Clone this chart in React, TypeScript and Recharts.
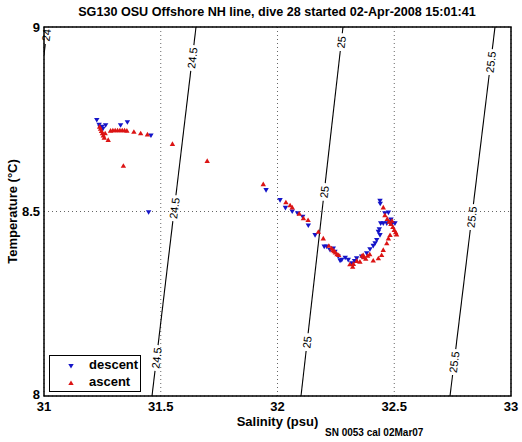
import React from 'react';
import {
  ScatterChart, Scatter, XAxis, YAxis, CartesianGrid, ReferenceLine,
  ReferenceDot, ReferenceArea,
} from 'recharts';

const FONT = '"Liberation Sans", Arial, Helvetica, sans-serif';

// glider samples
const descentSal = [
  31.226, 31.236, 31.240, 31.244, 31.248, 31.252, 31.264, 31.328, 31.357, 31.458, 31.448,
  31.951, 32.011, 32.034, 32.063, 32.086, 32.108, 32.132, 32.161, 32.200, 32.211, 32.225,
  32.239, 32.246, 32.260, 32.268, 32.275, 32.290, 32.303, 32.318, 32.330, 32.339, 32.360,
  32.382, 32.396, 32.410, 32.418, 32.425, 32.432, 32.439, 32.436, 32.442, 32.453, 32.468,
  32.480, 32.492, 32.503, 32.475, 32.460, 32.439, 32.440, 32.486,
];
const descentTemp = [
  8.748, 8.735, 8.728, 8.722, 8.730, 8.724, 8.734, 8.734, 8.742, 8.706, 8.498,
  8.558, 8.531, 8.510, 8.500, 8.495, 8.486, 8.462, 8.436, 8.405, 8.405, 8.396,
  8.400, 8.391, 8.378, 8.367, 8.369, 8.375, 8.369, 8.360, 8.366, 8.373, 8.378,
  8.387, 8.398, 8.407, 8.414, 8.423, 8.445, 8.436, 8.452, 8.468, 8.468, 8.468,
  8.470, 8.468, 8.468, 8.497, 8.495, 8.529, 8.521, 8.478,
];

const ascentSal = [
  31.238, 31.242, 31.246, 31.250, 31.254, 31.258, 31.262, 31.275, 31.285, 31.295, 31.305,
  31.315, 31.325, 31.335, 31.345, 31.355, 31.385, 31.414, 31.443, 31.550, 31.340, 31.699,
  31.939, 32.036, 32.054, 32.063, 32.093, 32.111, 32.131, 32.175, 32.196, 32.220, 32.232,
  32.238, 32.243, 32.248, 32.255, 32.262, 32.310, 32.322, 32.325, 32.340, 32.353, 32.362,
  32.367, 32.370, 32.378, 32.386, 32.395, 32.410, 32.432, 32.446, 32.453, 32.468, 32.475,
  32.482, 32.453, 32.460, 32.470, 32.478, 32.486, 32.494, 32.500, 32.506, 32.510, 32.490,
];
const ascentTemp = [
  8.730, 8.724, 8.718, 8.712, 8.706, 8.700, 8.712, 8.694, 8.719, 8.720, 8.720,
  8.720, 8.720, 8.720, 8.720, 8.719, 8.716, 8.712, 8.709, 8.683, 8.624, 8.637,
  8.574, 8.525, 8.517, 8.511, 8.494, 8.482, 8.477, 8.445, 8.427, 8.407, 8.400,
  8.395, 8.392, 8.389, 8.384, 8.382, 8.357, 8.350, 8.358, 8.366, 8.364, 8.380,
  8.382, 8.376, 8.372, 8.380, 8.384, 8.367, 8.373, 8.382, 8.396, 8.414, 8.427,
  8.436, 8.511, 8.490, 8.480, 8.472, 8.466, 8.458, 8.450, 8.444, 8.438, 8.475,
];

// sigma-t isopycnals: end points and where the contour labels sit
const isoLevels = ['24', '24.5', '25', '25.5'];
const isoSalLow = [31.0, 31.4625, 32.1006, 32.7388];
const isoTempLow = [8.924, 8, 8, 8];
const isoSalHigh = [31.014, 31.651, 32.2805, 32.9315];
const isoTempHigh = [9, 9, 9, 9];
const isoLabelTemps = [[8.978], [8.916, 8.509, 8.103], [8.959, 8.553, 8.146], [8.905, 8.485, 8.092]];

const salTicks = [31, 31.5, 32, 32.5, 33];
const tempTicks = [8, 8.5, 9];

const descent = descentSal.map((s, i) => ({ s, t: descentTemp[i] }));
const ascent = ascentSal.map((s, i) => ({ s, t: ascentTemp[i] }));

const isoSegments = isoLevels.map((lvl, i) => {
  const salAt = (t: number) =>
    isoSalLow[i] + ((t - isoTempLow[i]) / (isoTempHigh[i] - isoTempLow[i])) * (isoSalHigh[i] - isoSalLow[i]);
  const half = lvl.length > 2 ? 0.035 : 0.024;
  const segs: { t0: number; t1: number }[] = [];
  let cur = isoTempLow[i];
  [...isoLabelTemps[i]].sort((a, b) => a - b).forEach((t) => {
    if (t - half > cur) segs.push({ t0: cur, t1: t - half });
    cur = t + half;
  });
  if (cur < isoTempHigh[i]) segs.push({ t0: cur, t1: isoTempHigh[i] });
  return {
    lvl,
    segs: segs.map((g) => [{ x: salAt(g.t0), y: g.t0 }, { x: salAt(g.t1), y: g.t1 }]),
    labels: isoLabelTemps[i].map((t) => ({ x: salAt(t), y: t })),
  };
});

const DownTri = (p: any) => (
  <path d={`M${p.cx - 2.7},${p.cy - 2} L${p.cx + 2.7},${p.cy - 2} L${p.cx},${p.cy + 2.6} Z`} fill="#1414c8" />
);
const UpTri = (p: any) => (
  <path d={`M${p.cx - 2.7},${p.cy + 2} L${p.cx + 2.7},${p.cy + 2} L${p.cx},${p.cy - 2.6} Z`} fill="#dc1414" />
);

// y tick: the bottom "8" sits a touch higher, like matlab's corner label
const TempTick = (p: any) => (
  <text x={p.x} y={p.y} dy={p.payload.value === 8 ? -2 : 0} textAnchor="end" dominantBaseline="central"
    fontSize={13} fontWeight="bold" fontFamily={FONT} fill="#000">{p.payload.value}</text>
);

// legend drawn as an overlay so it doesn't eat into the plot area
const LegendBox = () => (
  <div style={{
    position: 'absolute', left: 49, top: 355,
    width: 92, height: 37, boxSizing: 'border-box', border: '1px solid #000', background: '#fff',
    fontFamily: FONT, fontWeight: 'bold', fontSize: 13,
  }}>
    <svg width={12} height={30} style={{ position: 'absolute', left: 15, top: 2 }}>
      <DownTri cx={6} cy={8} />
      <UpTri cx={6} cy={25} />
    </svg>
    <div style={{ position: 'absolute', left: 39, top: 1, lineHeight: '16px' }}>descent</div>
    <div style={{ position: 'absolute', left: 39, top: 18, lineHeight: '16px' }}>ascent</div>
  </div>
);

const App: React.FC = () => {
  return (
    <div style={{ position: 'relative', width: 522, height: 442, background: '#fff', fontFamily: FONT }}>
      <style>{'body{margin:0}'}</style>
      <div style={{
        position: 'absolute', left: 0, width: 522, top: 5, textAlign: 'center',
        fontWeight: 'bold', fontSize: 12.6, paddingLeft: 32, boxSizing: 'border-box',
      }}>
        SG130 OSU Offshore NH line, dive 28 started 02-Apr-2008 15:01:41
      </div>
      <div style={{
        position: 'absolute', left: 325, top: 427, fontWeight: 'bold', fontSize: 10,
      }}>
        SN 0053 cal 02Mar07
      </div>
      <ScatterChart width={522} height={442} margin={{ top: 27, right: 11, left: 0, bottom: 0 }}>
        <CartesianGrid stroke="#666" strokeDasharray="1 3" />
        <XAxis
          type="number" dataKey="s" domain={[31, 33]} ticks={salTicks} height={46}
          axisLine={false} tickLine={false} tickSize={6} tickMargin={0}
          tick={{ fill: '#000', fontSize: 13, fontWeight: 'bold', fontFamily: FONT }}
          label={{
            content: (p: any) => (
              <text x={p.viewBox.x + p.viewBox.width / 2} y={p.viewBox.y + 30} textAnchor="middle"
                fontSize={13} fontWeight="bold" fontFamily={FONT} fill="#000">Salinity (psu)</text>
            ),
          }}
        />
        <YAxis
          type="number" dataKey="t" domain={[8, 9]} ticks={tempTicks} width={44}
          axisLine={false} tickLine={false} tickSize={4} tickMargin={0}
          tick={<TempTick />}
          label={{
            content: (p: any) => {
              const cy = p.viewBox.y + p.viewBox.height / 2;
              return (
                <text x={17} y={cy} transform={`rotate(-90 17 ${cy})`} textAnchor="middle"
                  fontSize={13} fontWeight="bold" fontFamily={FONT} fill="#000">Temperature (°C)</text>
              );
            },
          }}
        />
        {isoSegments.flatMap((c) =>
          c.segs.map((seg, j) => (
            <ReferenceLine key={`${c.lvl}-${j}`} segment={seg} stroke="#000" strokeWidth={1.1} ifOverflow="hidden" />
          ))
        )}
        {isoSegments.flatMap((c) =>
          c.labels.map((pt, j) => (
            <ReferenceDot
              key={`lab-${c.lvl}-${j}`} x={pt.x} y={pt.y} r={0} ifOverflow="visible"
              shape={(p: any) => (
                <text x={p.cx} y={p.cy} transform={`rotate(-83 ${p.cx} ${p.cy})`} textAnchor="middle"
                  dominantBaseline="central" fontSize={11} fontFamily={FONT} fill="#000">{c.lvl}</text>
              )}
            />
          ))
        )}
        <Scatter name="descent" data={descent} shape={DownTri} isAnimationActive={false} />
        <Scatter name="ascent" data={ascent} shape={UpTri} isAnimationActive={false} />
        <ReferenceArea x1={31} x2={33} y1={8} y2={9} fill="none" stroke="#000" strokeWidth={1.5} />
      </ScatterChart>
      <LegendBox />
    </div>
  );
};

export default App;
